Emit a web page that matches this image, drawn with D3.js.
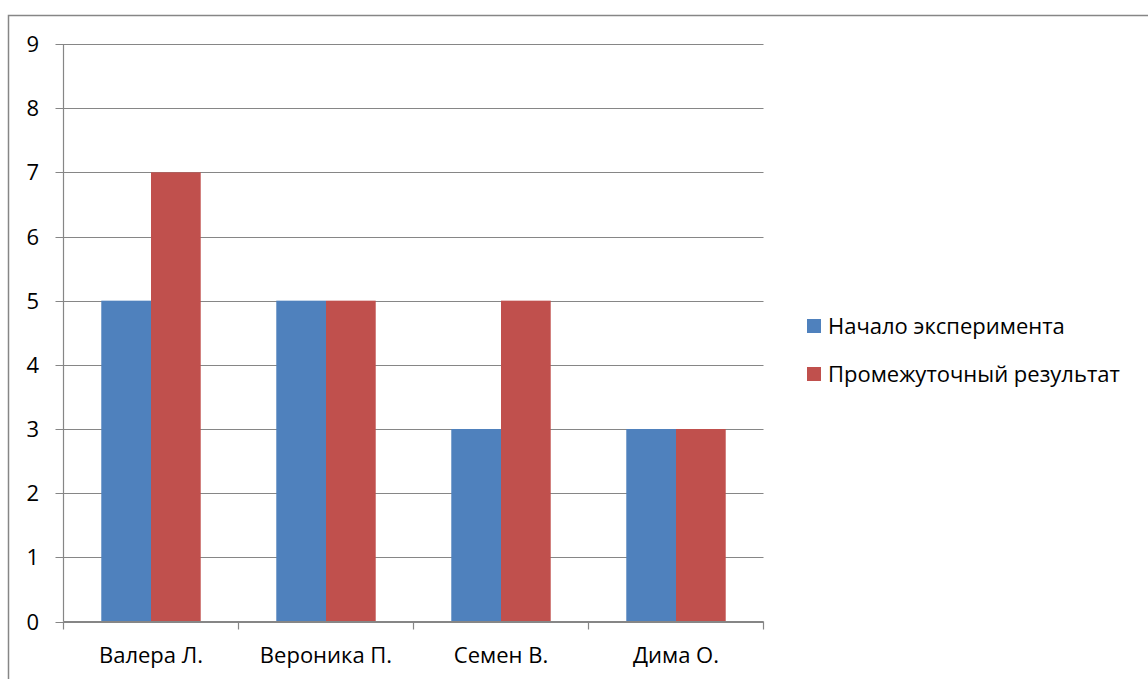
<!DOCTYPE html>
<html>
<head>
<meta charset="utf-8">
<script src="https://cdn.jsdelivr.net/npm/d3@7"></script>
<style>
    body { margin: 0; background: #fff; }
    svg { display: block; font-family: "Open Sans", "Noto Sans", sans-serif; }
</style>
</head>
<body>
<svg id="chart" width="1148" height="679"></svg>
<script>
const categories = ["Валера Л.", "Вероника П.", "Семен В.", "Дима О."];
const seriesNames = ["Начало эксперимента", "Промежуточный результат"];
const startValues = [5, 5, 3, 3];
const midValues = [7, 5, 5, 3];
const yTicks = [0, 1, 2, 3, 4, 5, 6, 7, 8, 9];
const colors = ["#4F81BD", "#C0504D"];

const svg = d3.select("#chart");
const axisColor = "#868686";
const fontSize = 22;

// outer chart border (cut off at the right and bottom)
svg.append("rect")
    .attr("x", 8.5).attr("y", 15.5)
    .attr("width", 1160).attr("height", 700)
    .attr("fill", "none")
    .attr("stroke", axisColor)
    .attr("stroke-width", 1.5);

const plot = { left: 63.5, right: 763.5, top: 44, bottom: 621.5 };

const x = d3.scaleBand()
    .domain(categories)
    .range([plot.left, plot.right])
    .paddingInner(0)
    .paddingOuter(0);

const y = d3.scaleLinear()
    .domain([0, 9])
    .range([plot.bottom, plot.top]);

const inner = d3.scaleBand()
    .domain(seriesNames)
    .range([0, x.bandwidth()])
    .paddingInner(0)
    .paddingOuter(0.76);

// gridlines
svg.append("g")
    .selectAll("line")
    .data(yTicks)
    .join("line")
    .attr("x1", plot.left - 8)
    .attr("x2", plot.right)
    .attr("y1", d => Math.round(y(d)) + 0.5)
    .attr("y2", d => Math.round(y(d)) + 0.5)
    .attr("stroke", axisColor)
    .attr("stroke-width", 1.2);

// y tick labels
svg.append("g")
    .selectAll("text")
    .data(yTicks)
    .join("text")
    .attr("x", 39)
    .attr("y", d => y(d) + 8)
    .attr("text-anchor", "end")
    .attr("font-size", fontSize)
    .attr("fill", "#000")
    .text(d => d);

// bars
const groups = svg.append("g")
    .selectAll("g")
    .data(categories)
    .join("g")
    .attr("transform", d => `translate(${x(d)},0)`);

groups.selectAll("rect")
    .data((d, i) => [startValues[i], midValues[i]].map((v, k) => ({ key: seriesNames[k], value: v, k })))
    .join("rect")
    .attr("x", d => inner(d.key))
    .attr("y", d => y(d.value))
    .attr("width", inner.bandwidth())
    .attr("height", d => y(0) - y(d.value))
    .attr("fill", d => colors[d.k]);

// y axis line
svg.append("line")
    .attr("x1", plot.left).attr("x2", plot.left)
    .attr("y1", plot.top).attr("y2", plot.bottom)
    .attr("stroke", axisColor).attr("stroke-width", 1.2);

// x axis line + category ticks
svg.append("line")
    .attr("x1", plot.left).attr("x2", plot.right)
    .attr("y1", plot.bottom).attr("y2", plot.bottom)
    .attr("stroke", axisColor).attr("stroke-width", 1.2);

const boundaries = categories.map(c => x(c)).concat([plot.right]);
svg.append("g")
    .selectAll("line")
    .data(boundaries)
    .join("line")
    .attr("x1", d => d).attr("x2", d => d)
    .attr("y1", plot.bottom).attr("y2", plot.bottom + 8)
    .attr("stroke", axisColor).attr("stroke-width", 1.2);

// category labels
svg.append("g")
    .selectAll("text")
    .data(categories)
    .join("text")
    .attr("x", d => x(d) + x.bandwidth() / 2)
    .attr("y", 663)
    .attr("text-anchor", "middle")
    .attr("font-size", fontSize)
    .attr("fill", "#000")
    .text(d => d);

// legend
const legend = svg.append("g")
    .selectAll("g")
    .data(seriesNames)
    .join("g")
    .attr("transform", (d, i) => `translate(807,${319 + i * 48})`);

legend.append("rect")
    .attr("width", 14).attr("height", 14)
    .attr("fill", (d, i) => colors[i]);

legend.append("text")
    .attr("x", 21)
    .attr("y", 15)
    .attr("font-size", fontSize)
    .attr("fill", "#000")
    .text(d => d);
</script>
</body>
</html>
